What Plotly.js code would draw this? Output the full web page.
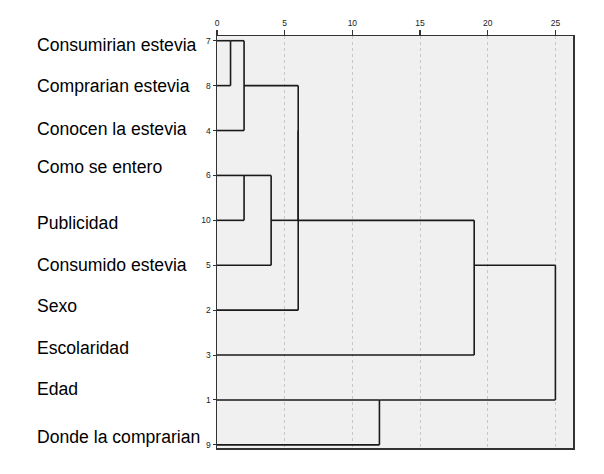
<!DOCTYPE html>
<html>
<head>
<meta charset="utf-8">
<script src="https://cdn.plot.ly/plotly-3.0.1.min.js"></script>
<style>html,body{margin:0;padding:0;background:#fff;}#chart{width:604px;height:474px;}</style>
</head>
<body>
<div id="chart"></div>
<script>
// ---- data ----
const variableIds = [1, 2, 3, 4, 5, 6, 7, 8, 9, 10];
const variableNames = ["Edad", "Sexo", "Escolaridad", "Conocen la estevia", "Consumido estevia",
  "Como se entero", "Consumirian estevia", "Comprarian estevia", "Donde la comprarian", "Publicidad"];
const leafOrder = [7, 8, 4, 6, 10, 5, 2, 3, 1, 9];
// agglomeration schedule (rescaled distance)
const mergeA = [7, 7, 6, 6, 7, 7, 1, 7, 7];
const mergeB = [8, 4, 10, 5, 6, 2, 9, 3, 1];
const mergeDistance = [1, 2, 2, 4, 6, 6, 12, 19, 25];
const distanceTicks = [0, 5, 10, 15, 20, 25];

// ---- build dendrogram segments ----
const state = {};
leafOrder.forEach((id, i) => { state[id] = {row: i, x: 0}; });
const xs = [], ys = [];
function seg(x0, y0, x1, y1) { xs.push(x0, x1, null); ys.push(y0, y1, null); }
for (let k = 0; k < mergeA.length; k++) {
  const A = state[mergeA[k]], B = state[mergeB[k]], h = mergeDistance[k];
  seg(A.x, A.row, h, A.row);
  seg(B.x, B.row, h, B.row);
  seg(h, A.row, h, B.row);
  state[mergeA[k]] = {row: Math.floor((A.row + B.row) / 2), x: h};
  delete state[mergeB[k]];
}

// ---- layout ----
const W = 604, H = 474;
const mL = 217, mR = 31, mT = 36, mB = 26;
const plotW = W - mL - mR;
const labelNudge = [4, 0, -2, -8, 3, 0, -4, -7, -11, -8]; // px, downward
const labelX = 35;

const annotations = leafOrder.map((id, i) => ({
  xref: 'paper', yref: 'y',
  x: (labelX - mL) / plotW, y: i,
  xanchor: 'left', yanchor: 'middle',
  yshift: -labelNudge[i],
  text: variableNames[variableIds.indexOf(id)],
  showarrow: false,
  font: {family: 'Liberation Sans, Arial, sans-serif', size: 17.6, color: '#000'}
}));

const trace = {
  x: xs, y: ys, type: 'scatter', mode: 'lines',
  line: {color: '#1a1a1a', width: 1.6},
  hoverinfo: 'skip', showlegend: false, connectgaps: false
};

const layout = {
  width: W, height: H,
  margin: {l: mL, r: mR, t: mT, b: mB, pad: 0},
  paper_bgcolor: '#ffffff',
  plot_bgcolor: '#f0f0f0',
  showlegend: false,
  xaxis: {
    side: 'top', range: [0, 26.3],
    tickmode: 'array', tickvals: distanceTicks, ticktext: distanceTicks.map(String),
    ticks: 'outside', ticklen: 5, tickwidth: 1.3, tickcolor: '#333',
    tickfont: {family: 'Liberation Sans, Arial, sans-serif', size: 8.5, color: '#222'},
    showgrid: true, gridcolor: '#c8c8c8', gridwidth: 1, griddash: '3px,3px',
    zeroline: false, showline: true, linecolor: '#333', linewidth: 1.5, mirror: true,
    fixedrange: true
  },
  yaxis: {
    range: [9.07, -0.105],
    tickmode: 'array', tickvals: leafOrder.map((d, i) => i), ticktext: leafOrder.map(String),
    ticks: 'outside', ticklen: 3, tickwidth: 1, tickcolor: '#333',
    tickfont: {family: 'Liberation Sans, Arial, sans-serif', size: 8.5, color: '#222'},
    showgrid: false, zeroline: false,
    showline: true, linecolor: '#333', linewidth: 1.5, mirror: true,
    fixedrange: true
  },
  annotations: annotations
};

Plotly.newPlot('chart', [trace], layout, {displayModeBar: false, staticPlot: true});
</script>
</body>
</html>
